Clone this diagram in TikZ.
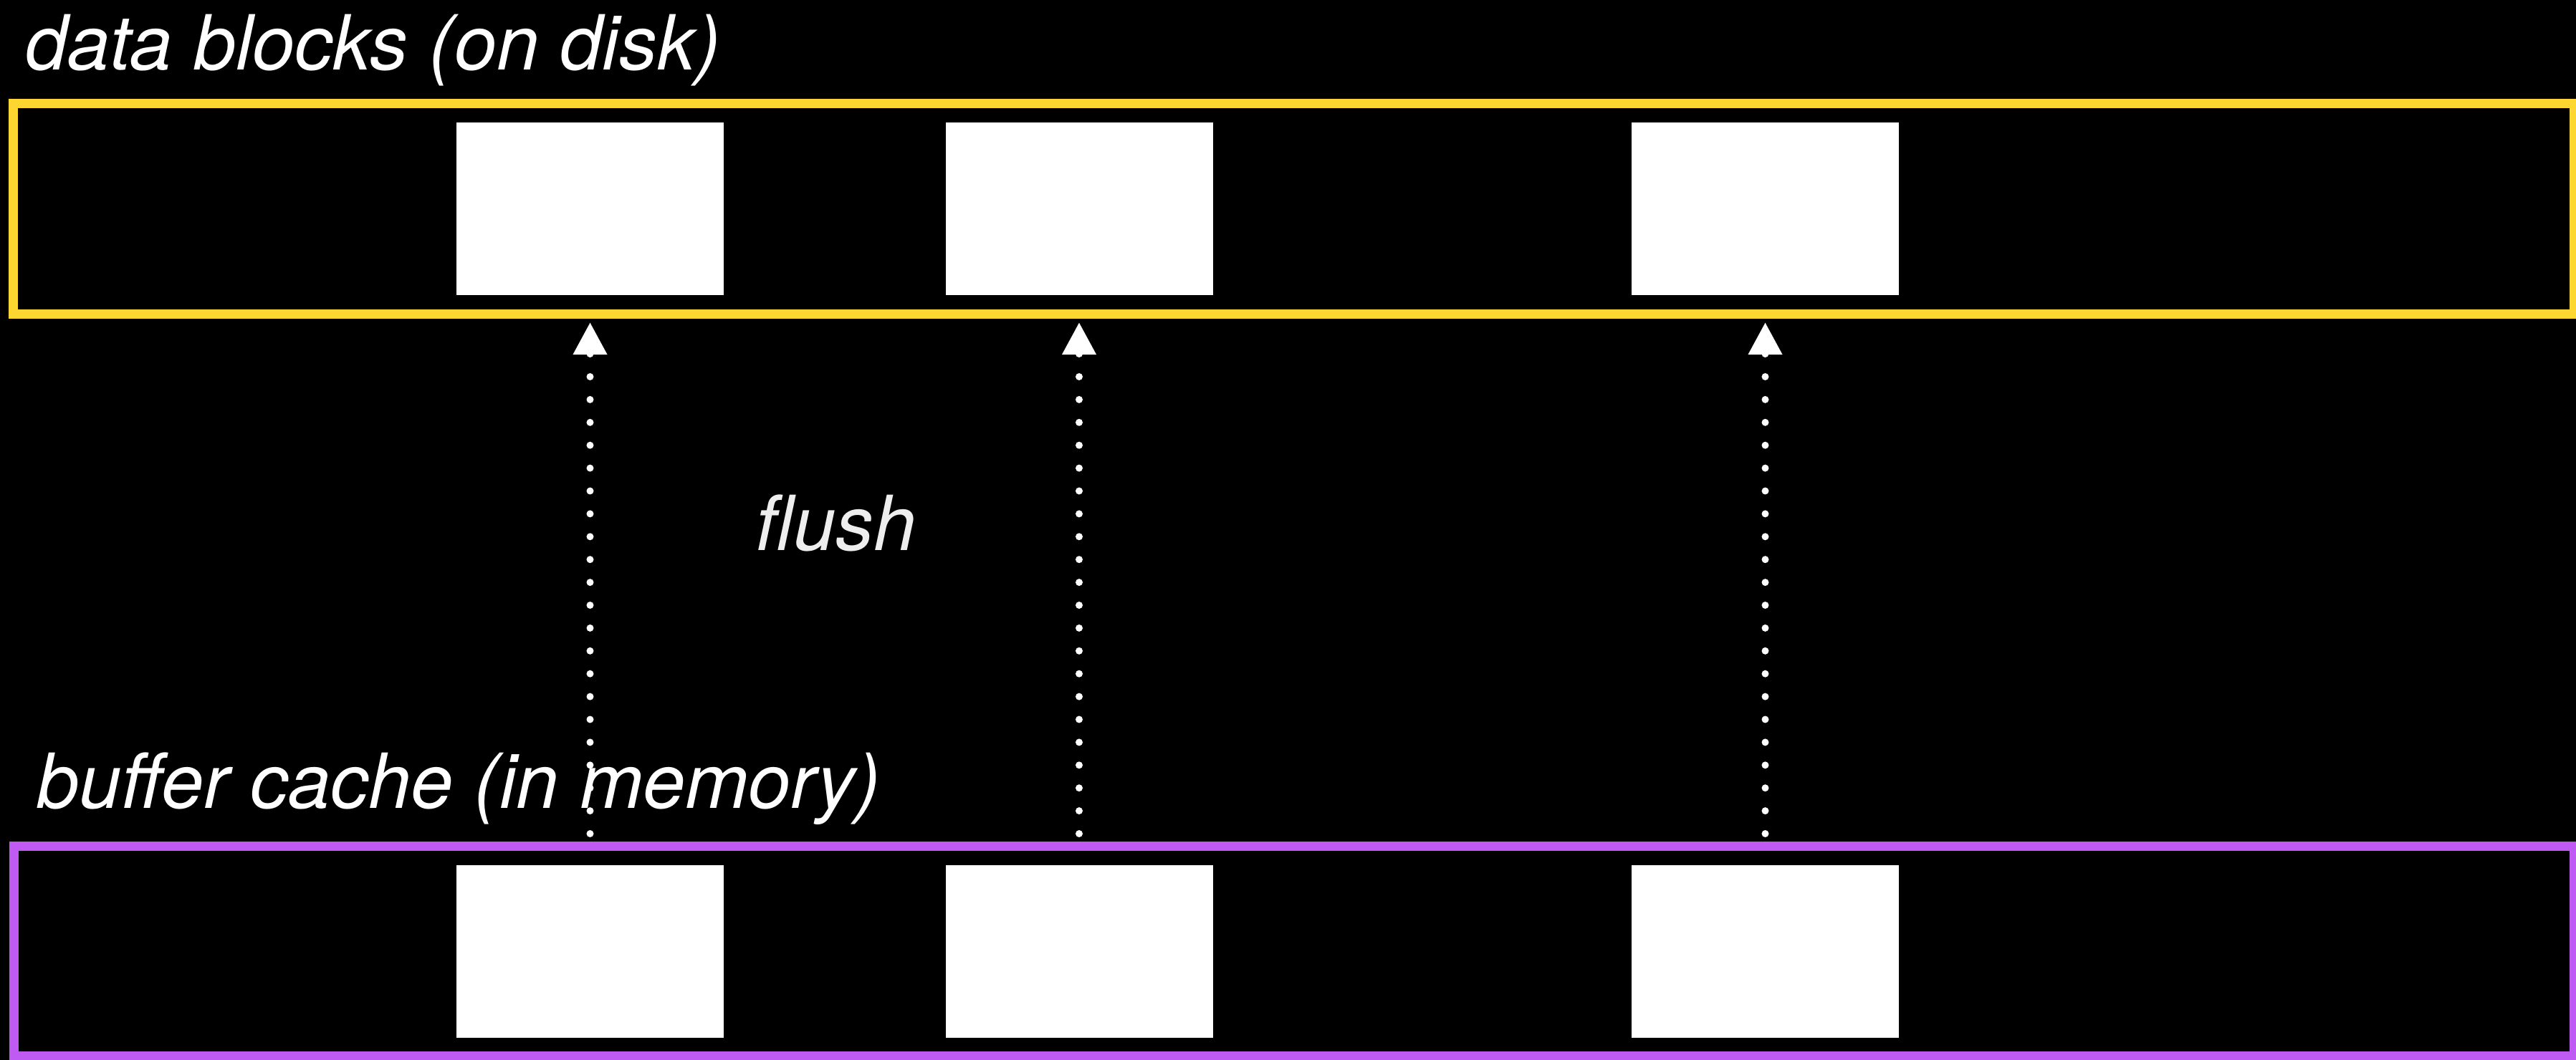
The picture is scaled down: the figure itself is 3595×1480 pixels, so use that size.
\documentclass[tikz,border=0pt]{standalone}
\usepackage{fontspec}
\setmainfont{TeX Gyre Heros}
\usetikzlibrary{arrows.meta}
\definecolor{diskyellow}{HTML}{FDD631}
\definecolor{mempurple}{HTML}{BF5AF2}
\definecolor{labelgrey}{HTML}{EEEEEE}
\begin{document}
\begin{tikzpicture}[x=1bp,y=-1bp,
  frame/.style={draw=#1, line width=13bp, inner sep=0, outer sep=0},
  block/.style={fill=white, inner sep=0, outer sep=0, minimum width=373bp, minimum height=241bp},
  caption/.style={anchor=base west, inner sep=0, text=white, font=\fontsize{106.5}{120}\selectfont\itshape},
  flushline/.style={white, line width=10bp, line cap=round, dash pattern=on 0bp off 31.9bp,
    -{Triangle[length=45bp,width=45bp]}},
]
% black page
\fill[black] (0,0) rectangle (3595,1480);
\useasboundingbox (0,0) rectangle (3595,1480);

% disk and memory frames
\node[frame=diskyellow, minimum width=3573.5bp, minimum height=293.5bp] (disk) at (1805.75,291.75) {};
\node[frame=mempurple, minimum width=3572.5bp, minimum height=293bp] (mem) at (1806.25,1328) {};

% data blocks on disk
\node[block] (disk1) at (823.5,291.5) {};
\node[block] (disk2) at (1506,291.5) {};
\node[block] (disk3) at (2463.5,291.5) {};

% cached blocks in memory
\node[block] (mem1) at (823.5,1328.5) {};
\node[block] (mem2) at (1506,1328.5) {};
\node[block] (mem3) at (2463.5,1328.5) {};

% labels
\node[caption] (disklabel) at (35,98) {data blocks (on disk)};
\node[caption] (memlabel) at (51,1128) {buffer cache (in memory)};
\node[caption, text=labelgrey] (flushlabel) at (1054,768) {flush};

% flush arrows
\foreach \i in {1,2,3}
  \draw[flushline, shorten <=44bp, shorten >=38bp] (mem\i.north) -- (disk\i.south);
\end{tikzpicture}
\end{document}
